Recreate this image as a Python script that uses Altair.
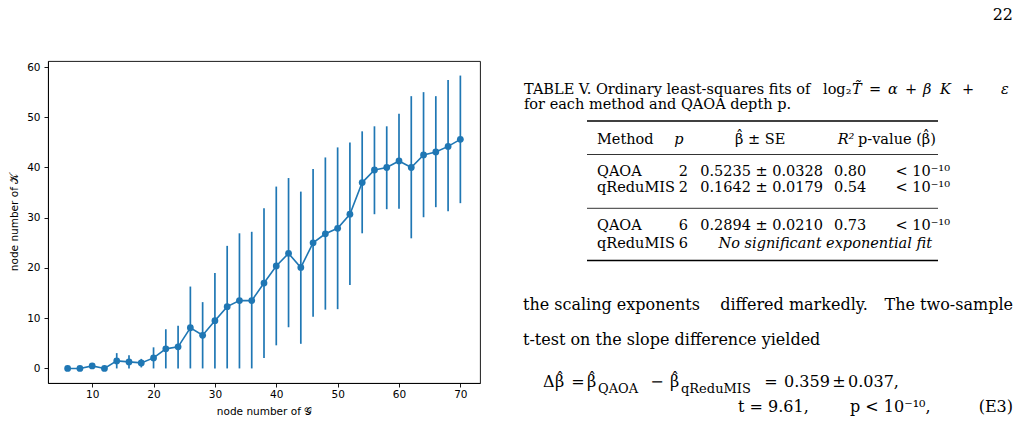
import altair as alt
import pandas as pd

# ---------------- data ----------------
nodes_G = [6, 8, 10, 12, 14, 16, 18, 20, 22, 24,
           26, 28, 30, 32, 34, 36, 38, 40, 42, 44,
           46, 48, 50, 52, 54, 56, 58, 60, 62, 64,
           66, 68, 70]
mean_K = [0.0, 0.0, 0.5, 0.0, 1.5, 1.3, 1.1, 2.1, 3.9, 4.3,
          8.1, 6.6, 9.5, 12.3, 13.5, 13.5, 17.0, 20.4, 22.9, 20.1,
          25.0, 26.8, 27.9, 30.7, 37.0, 39.5, 40.0, 41.3, 40.0, 42.5,
          43.1, 44.2, 45.6]
err_lo = [0.0, 0.0, 0.0, 0.0, 0.0, 0.0, 0.2, 0.0, 0.0, 0.0,
          0.0, 0.0, 0.0, 0.0, 0.0, 0.0, 2.1, 4.6, 8.2, 4.9,
          10.3, 11.7, 11.8, 16.6, 26.9, 30.7, 31.7, 31.8, 25.9, 30.1,
          32.1, 31.3, 32.9]
err_hi = [0.0, 0.0, 1.0, 0.0, 3.05, 2.6, 1.9, 4.2, 7.8, 8.5,
          16.3, 13.2, 19.0, 24.4, 26.9, 27.2, 31.9, 36.2, 37.9, 35.2,
          39.7, 42.0, 44.0, 45.0, 47.2, 48.2, 48.2, 50.7, 54.2, 55.0,
          54.2, 57.4, 58.3]
x_ticks = [10, 20, 30, 40, 50, 60, 70]
y_ticks = [0, 10, 20, 30, 40, 50, 60]
x_title = "node number of 𝒢"
y_title = "node number of 𝒦"

# ---------------- page text ----------------
page_number = "22"
caption_head = "TABLE V. Ordinary least-squares fits of"
caption_math = ["log₂", "T̃", "=", "α", "+", "β", "K", "+", "ε"]
caption_line2 = "for each method and QAOA depth p."
table_header = ["Method", "p", "β", "± SE", "R²", "p-value (β)"]
table_rows = [["QAOA", "2", "0.5235 ± 0.0328", "0.80", "< 10⁻¹⁰"],
              ["qReduMIS", "2", "0.1642 ± 0.0179", "0.54", "< 10⁻¹⁰"],
              ["QAOA", "6", "0.2894 ± 0.0210", "0.73", "< 10⁻¹⁰"],
              ["qReduMIS", "6", "No significant exponential fit", "", ""]]
para_line1 = ["the scaling exponents", "differed markedly.", "The two-sample"]
para_line2 = "t-test on the slope difference yielded"
eq_parts = ["Δ", "β", "=", "β", "QAOA", "−", "β", "qReduMIS", "=", "0.359", "±", "0.037,"]
eq2_parts = ["t = 9.61,", "p < 10⁻¹⁰,", "(E3)"]
HAT = "ˆ"

df = pd.DataFrame({"G": nodes_G, "K": mean_K, "lo": err_lo, "hi": err_hi})
one = pd.DataFrame({"k": [0]})

PL, PT, PW, PH = 48, 61, 432, 322
blue = "#1f77b4"
SERIF = "DejaVu Serif"
SANS = "DejaVu Sans"
CAP = 14.5   # caption / table size
TXT = 16     # body text size

xscale = alt.Scale(domain=[2.8, 73.2], nice=False, zero=False)
yscale = alt.Scale(domain=[-2.9, 61.2], nice=False, zero=False)

xaxis = alt.Axis(values=x_ticks, title=x_title, format="d", tickSize=4,
                 labelPadding=2.5, titlePadding=6)
yaxis = alt.Axis(values=y_ticks, title=y_title, format="d", tickSize=4,
                 labelPadding=4, titlePadding=7)

base = alt.Chart(df)
bars = base.mark_rule(color=blue, strokeWidth=1.7).encode(
    x=alt.X("G:Q", scale=xscale, axis=xaxis),
    y=alt.Y("lo:Q", scale=yscale, axis=yaxis),
    y2="hi:Q",
)
line = base.mark_line(color=blue, strokeWidth=1.6).encode(
    x=alt.X("G:Q", scale=xscale), y=alt.Y("K:Q", scale=yscale))
pts = base.mark_circle(color=blue, size=46, opacity=1).encode(
    x=alt.X("G:Q", scale=xscale), y=alt.Y("K:Q", scale=yscale))


def txt(s, x, y, size=TXT, align="left", style="normal"):
    return alt.Chart(one).mark_text(
        text=s, align=align, baseline="alphabetic", fontSize=size,
        fontStyle=style, font=SERIF, color="black"
    ).encode(x=alt.value(x - PL), y=alt.value(y - PT))


def hat(xc, y, size=TXT):
    return txt(HAT, xc, y - 3, size=size, align="center")


def hrule(x1, x2, y, w):
    return alt.Chart(one).mark_rule(color="black", strokeWidth=w).encode(
        x=alt.value(x1 - PL), x2=alt.value(x2 - PL), y=alt.value(y - PT))


layers = [bars, line, pts]

layers.append(txt(page_number, 1013, 20, align="right"))

# caption
cy = 93.5
layers.append(txt(caption_head, 524, cy, size=CAP))
cap_x = [823, 852, 869, 888, 905, 923, 940, 962, 1001]
cap_it = [False, True, False, True, False, True, True, False, True]
for s, xx, it in zip(caption_math, cap_x, cap_it):
    layers.append(txt(s, xx, cy, size=CAP, style="italic" if it else "normal"))
layers.append(txt(caption_line2, 524, 108.5, size=CAP))

# table
layers.append(hrule(587, 938, 121, 1.3))
hy = 143.5
layers.append(txt(table_header[0], 597, hy, size=CAP))
layers.append(txt(table_header[1], 679, hy, size=CAP, align="center", style="italic"))
layers.append(txt(table_header[2], 735, hy, size=CAP))
layers.append(hat(739.5, hy, size=CAP))
layers.append(txt(table_header[3], 748, hy, size=CAP))
layers.append(txt(table_header[4], 846, hy, size=CAP, align="center", style="italic"))
layers.append(txt(table_header[5], 858, hy, size=CAP))
layers.append(hat(926, hy, size=CAP))
layers.append(hrule(587, 938, 154.5, 0.8))

row_y = [175.5, 192.0, 230.0, 248.0]
for r, yy in zip(table_rows, row_y):
    layers.append(txt(r[0], 597, yy, size=CAP))
    layers.append(txt(r[1], 688, yy, size=CAP, align="right"))
    if r[3]:
        layers.append(txt(r[2], 823, yy, size=CAP, align="right"))
        layers.append(txt(r[3], 834, yy, size=CAP))
        layers.append(txt(r[4], 950, yy, size=CAP, align="right"))
    else:
        layers.append(txt(r[2], 932, yy, size=CAP, align="right", style="italic"))
layers.append(hrule(587, 938, 208.3, 0.8))
layers.append(hrule(587, 938, 260.5, 1.3))

# paragraph (justified line)
layers.append(txt(para_line1[0], 523, 309.5))
layers.append(txt(para_line1[1], 794, 309.5, align="center"))
layers.append(txt(para_line1[2], 1013, 309.5, align="right"))
layers.append(txt(para_line2, 523, 344.5))

# equation
ey, sy = 387, 392.5
layers.append(txt(eq_parts[0], 543, ey))
layers.append(txt(eq_parts[1], 555, ey))
layers.append(hat(560, ey))
layers.append(txt(eq_parts[2], 578, ey, align="center"))
layers.append(txt(eq_parts[3], 587, ey))
layers.append(hat(592, ey))
layers.append(txt(eq_parts[4], 598, sy, size=13))
layers.append(txt(eq_parts[5], 657, ey, align="center"))
layers.append(txt(eq_parts[6], 670, ey))
layers.append(hat(675, ey))
layers.append(txt(eq_parts[7], 681, sy, size=13))
layers.append(txt(eq_parts[8], 771, ey, align="center"))
layers.append(txt(eq_parts[9], 784, ey))
layers.append(txt(eq_parts[10], 839, ey, align="center"))
layers.append(txt(eq_parts[11], 848, ey))
layers.append(txt(eq2_parts[0], 738, 412))
layers.append(txt(eq2_parts[1], 850, 412))
layers.append(txt(eq2_parts[2], 1013, 412, align="right"))

chart = alt.layer(*layers).properties(
    width=PW, height=PH,
    padding={"left": PL, "top": PT, "right": 1020 - PL - PW, "bottom": 440 - PT - PH},
    autosize=alt.AutoSizeParams(type="none"),
    background="white",
).configure_view(
    stroke="black", strokeWidth=0.9
).configure_axis(
    grid=False, domainColor="black", domainWidth=0.9, tickColor="black",
    tickWidth=0.9, labelColor="black", labelFont=SANS, labelFontSize=10.5,
    titleFont=SANS, titleFontSize=10.5, titleFontWeight="normal",
    titleColor="black",
)

chart.save("out.html", embed_options={"renderer": "svg", "actions": False})
